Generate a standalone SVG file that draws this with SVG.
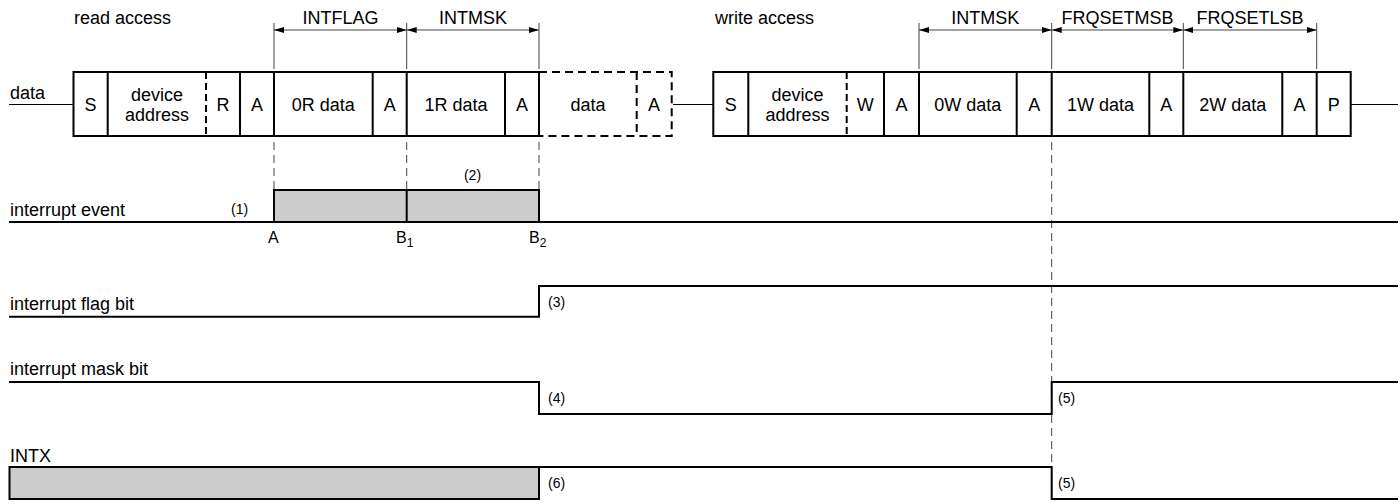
<svg xmlns="http://www.w3.org/2000/svg" width="1400" height="504" viewBox="0 0 1400 504">
<defs>
<style>
text{font-family:"Liberation Sans",Arial,sans-serif;fill:#000}
.l{font-size:18px}
.c{font-size:18px;text-anchor:middle}
.s{font-size:14px}
.ab{font-size:16px}
.box{fill:#fff;stroke:#000;stroke-width:2}
.div{stroke:#000;stroke-width:2;fill:none}
.ddiv{stroke:#000;stroke-width:2;fill:none;stroke-dasharray:7 4}
.dbox{stroke:#000;stroke-width:2;fill:none;stroke-dasharray:8 5}
.thin{stroke:#000;stroke-width:1.2;fill:none}
.sig{stroke:#000;stroke-width:2;fill:none}
.gray{fill:#cccccc;stroke:#000;stroke-width:2}
.ext{stroke:#444;stroke-width:1;fill:none}
.dim{stroke:#444;stroke-width:1;fill:none;marker-start:url(#ah);marker-end:url(#ah)}
.guide{stroke:#444;stroke-width:1;fill:none;stroke-dasharray:8 5}
</style>
<marker id="ah" viewBox="0 0 10 6" refX="10" refY="3" markerWidth="10" markerHeight="6" markerUnits="userSpaceOnUse" orient="auto-start-reverse">
<path d="M0,0 L10,3 L0,6 Z" fill="#000"/>
</marker>
</defs>

<g id="titles">
<text class="l" x="74" y="24">read access</text>
<text class="l" x="715" y="24">write access</text>
</g>

<g id="data-label">
<text class="l" x="10" y="99">data</text>
</g>

<g id="read-frame">
<rect class="box" x="73.5" y="72" width="465.5" height="64"/>
<path class="div" d="M107.7,72V136M240,72V136M274,72V136M372.7,72V136M406.7,72V136M505,72V136"/>
<path class="ddiv" d="M206,72V136"/>
<text class="c" x="90.5" y="111">S</text>
<text class="c" x="157" y="101">device</text>
<text class="c" x="157" y="121">address</text>
<text class="c" x="223" y="111">R</text>
<text class="c" x="257" y="111">A</text>
<text class="c" x="323.3" y="111">0R data</text>
<text class="c" x="389.7" y="111">A</text>
<text class="c" x="456" y="111">1R data</text>
<text class="c" x="522" y="111">A</text>
</g>

<g id="optional-frame">
<path class="dbox" d="M539,72H671.7V136H539M636.7,72V136"/>
<text class="c" x="588" y="111">data</text>
<text class="c" x="654" y="111">A</text>
</g>

<g id="write-frame">
<rect class="box" x="713.3" y="72" width="637.4" height="64"/>
<path class="div" d="M748.3,72V136M884,72V136M919,72V136M1016.7,72V136M1051.7,72V136M1149.3,72V136M1183.3,72V136M1282.3,72V136M1316.7,72V136"/>
<path class="ddiv" d="M846.7,72V136"/>
<text class="c" x="730.8" y="111">S</text>
<text class="c" x="797.5" y="101">device</text>
<text class="c" x="797.5" y="121">address</text>
<text class="c" x="865.3" y="111">W</text>
<text class="c" x="901.5" y="111">A</text>
<text class="c" x="967.8" y="111">0W data</text>
<text class="c" x="1034.2" y="111">A</text>
<text class="c" x="1100.5" y="111">1W data</text>
<text class="c" x="1166.3" y="111">A</text>
<text class="c" x="1232.8" y="111">2W data</text>
<text class="c" x="1299.5" y="111">A</text>
<text class="c" x="1333.7" y="111">P</text>
</g>

<g id="connectors">
<path class="thin" d="M9,104.5H73.5M673,104.5H713.3M1350.7,104.5H1398"/>
<path class="ext" d="M274,23V69M406.7,23V69M539,23V69M919,23V69M1051.7,23V69M1183.3,23V69M1316.7,23V69"/>
<path class="dim" d="M274,30H406.7"/>
<path class="dim" d="M406.7,30H539"/>
<path class="dim" d="M919,30H1051.7"/>
<path class="dim" d="M1051.7,30H1183.3"/>
<path class="dim" d="M1183.3,30H1316.7"/>
<path class="guide" d="M274,142V190M406.7,142V190M539,142V190M1051.7,142V466"/>
</g>

<g id="dim-labels">
<text class="c" x="340.5" y="24">INTFLAG</text>
<text class="c" x="473" y="24">INTMSK</text>
<text class="c" x="985.3" y="24">INTMSK</text>
<text class="c" x="1117.5" y="24">FRQSETMSB</text>
<text class="c" x="1250" y="24">FRQSETLSB</text>
</g>

<g id="interrupt-event">
<text class="l" x="10" y="215.5">interrupt event</text>
<rect class="gray" x="274" y="190" width="265" height="32"/>
<path class="div" d="M406.7,190V222"/>
<path class="sig" d="M9,222H1398"/>
<text class="s" x="231" y="213.5">(1)</text>
<text class="s" x="472.5" y="179.5" text-anchor="middle">(2)</text>
<text class="ab" x="268" y="243">A</text>
<text class="ab" x="396" y="243">B<tspan font-size="12" dy="4">1</tspan></text>
<text class="ab" x="529" y="243">B<tspan font-size="12" dy="4">2</tspan></text>
</g>

<g id="interrupt-flag-bit">
<text class="l" x="10" y="309.5">interrupt flag bit</text>
<path class="sig" d="M9,316.7H539V286H1398"/>
<text class="s" x="548" y="307">(3)</text>
</g>

<g id="interrupt-mask-bit">
<text class="l" x="10" y="375">interrupt mask bit</text>
<path class="sig" d="M9,382H539V414H1051.7V382H1398"/>
<text class="s" x="548" y="403">(4)</text>
<text class="s" x="1058" y="403">(5)</text>
</g>

<g id="intx">
<text class="l" x="10" y="461.5">INTX</text>
<rect class="gray" x="9.5" y="467" width="529.5" height="32"/>
<path class="sig" d="M539,467H1051.7V499H1398"/>
<text class="s" x="548" y="488">(6)</text>
<text class="s" x="1058" y="488">(5)</text>
</g>
</svg>
